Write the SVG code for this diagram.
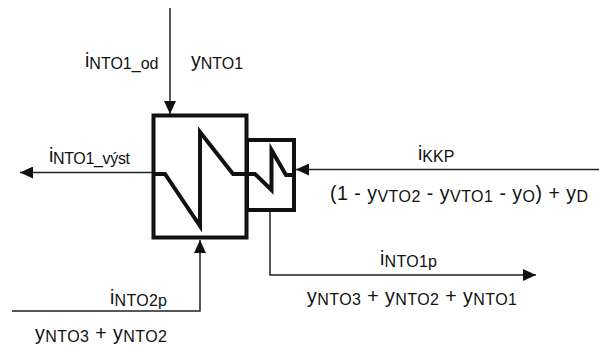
<svg xmlns="http://www.w3.org/2000/svg" width="599" height="347" viewBox="0 0 599 347">
<style>
text{font-family:"Liberation Sans",Arial,sans-serif;font-size:19.500px;fill:#111}
.s{font-size:16px}
.b{fill:#fff;stroke:#111;stroke-width:4}
.z{fill:none;stroke:#111;stroke-width:4;stroke-linejoin:miter}
.c{fill:none;stroke:#222;stroke-width:1.500}
</style>
<defs>
<marker id="a" markerUnits="userSpaceOnUse" markerWidth="13" markerHeight="12" refX="13" refY="6" orient="auto"><path d="M0 0L13 6L0 12Z" fill="#111"/></marker>
</defs>
<rect width="599" height="347" fill="#fff"/>
<g id="connectors">
<path class="c" marker-end="url(#a)" d="M170 8V114"/>
<path class="c" marker-end="url(#a)" d="M153 172.500H20"/>
<path class="c" marker-end="url(#a)" d="M599 169.500H296"/>
<path class="c" marker-end="url(#a)" d="M12 311H200V240"/>
<path class="c" marker-end="url(#a)" d="M270 211V275H536"/>
</g>
<g id="node-small">
<rect class="b" x="247" y="140" width="47" height="70"/>
<path class="z" d="M247 174H255L271.500 190V150L286 175H294"/>
</g>
<g id="node-large">
<rect class="b" x="153.500" y="115.500" width="93" height="122"/>
<path class="z" d="M153.500 174H165L200 226V132L233 174H246.500"/>
</g>
<g id="labels">
<text x="85" y="67">i<tspan class="s" dy="2">NTO1_od</tspan></text>
<text x="191" y="67">y<tspan class="s" dy="2">NTO1</tspan></text>
<text x="49" y="162" textLength="81">i<tspan class="s" dy="2">NTO1_výst</tspan></text>
<text x="418" y="160">i<tspan class="s" dy="2">KKP</tspan></text>
<text x="330" y="200" textLength="258">(1 - y<tspan class="s" dy="2">VTO2</tspan><tspan dy="-2"> - y</tspan><tspan class="s" dy="2">VTO1</tspan><tspan dy="-2"> - y</tspan><tspan class="s" dy="2">O</tspan><tspan dy="-2">) + y</tspan><tspan class="s" dy="2">D</tspan></text>
<text x="380" y="264.500" textLength="57">i<tspan class="s" dy="2">NTO1p</tspan></text>
<text x="307" y="303" textLength="210">y<tspan class="s" dy="2">NTO3</tspan><tspan dy="-2"> + y</tspan><tspan class="s" dy="2">NTO2</tspan><tspan dy="-2"> + y</tspan><tspan class="s" dy="2">NTO1</tspan></text>
<text x="110" y="303.500" textLength="57">i<tspan class="s" dy="2">NTO2p</tspan></text>
<text x="35" y="339.500" textLength="132">y<tspan class="s" dy="2">NTO3</tspan><tspan dy="-2"> + y</tspan><tspan class="s" dy="2">NTO2</tspan></text>
</g>
</svg>
